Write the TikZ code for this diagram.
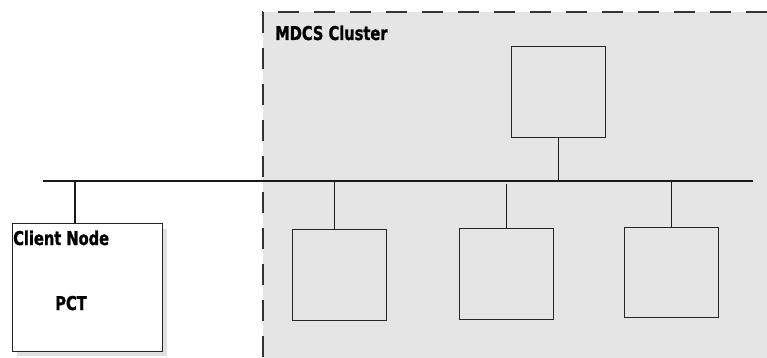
\documentclass[tikz,border=0pt]{standalone}
\usepackage{fontspec}
\setmainfont{DejaVu Sans}[FakeStretch=0.77,BoldFeatures={FakeBold=1.2}]
\begin{document}
\begin{tikzpicture}[x=1pt,y=-1pt,
  box/.style={draw=black!85,line width=1.1pt},
  wire/.style={draw=black!90,line width=1.1pt},
  lbl/.style={font=\bfseries\fontsize{19}{21}\selectfont,inner sep=0pt,anchor=base west}]
\useasboundingbox (0,0) rectangle (767,358);
% cluster area
\fill[black!10] (263,12) rectangle (767,358);
\draw[line width=1.8pt,black!80,dash pattern=on 21pt off 15pt] (767,12) -- (263,12) -- (263,358);
\node[lbl] (mdcs) at (275,40) {MDCS Cluster};
% bus
\coordinate (busL) at (43,181);
\coordinate (busR) at (753,181);
\draw[wire] (busL) -- (busR);
% top box
\node[box,minimum width=94pt,minimum height=91pt,inner sep=0pt,anchor=north west] (top) at (511,46) {};
\draw[wire] (top.south) -- (top.south |- busL);
% bottom boxes
\node[box,minimum width=94pt,minimum height=91pt,inner sep=0pt,anchor=north west] (b1) at (292,229) {};
\node[box,minimum width=94pt,minimum height=91pt,inner sep=0pt,anchor=north west] (b2) at (459,228) {};
\node[box,minimum width=94pt,minimum height=90pt,inner sep=0pt,anchor=north west] (b3) at (624,227) {};
\draw[wire] ([xshift=-5pt]b1.north) -- ([xshift=-5pt]b1.north |- busL);
\draw[wire] (b2.north) -- ([yshift=-3pt]b2.north |- busL);
\draw[wire] (b3.north) -- (b3.north |- busL);
% client node
\fill[black!12] (17,229) rectangle (167,356);
\node[box,fill=white,minimum width=150pt,minimum height=128pt,inner sep=0pt,anchor=north west] (client) at (12,223) {};
\draw[wire] (client.north -| 75,0) -- (75,181);
\node[lbl] (cn) at (13,245) {Client Node};
\node[lbl,anchor=base] (pct) at (71,310) {PCT};
\end{tikzpicture}
\end{document}
